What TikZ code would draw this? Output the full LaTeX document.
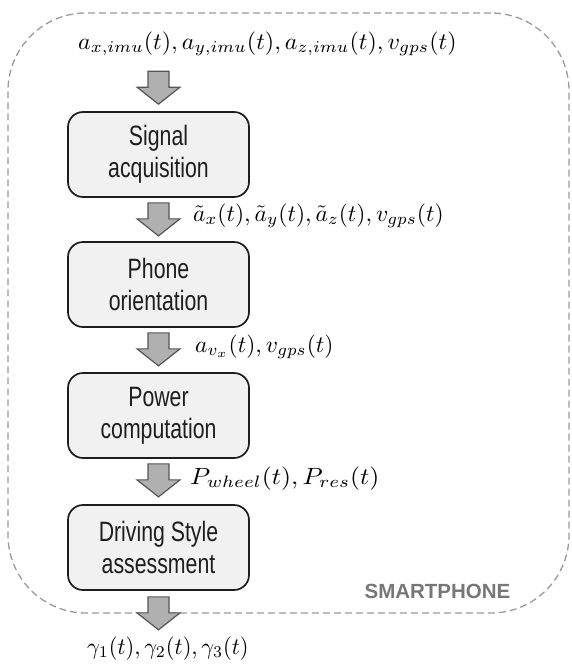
\documentclass[tikz,border=0pt]{standalone}
\usepackage{fontspec}
\newfontfamily\boxfont[FakeStretch=0.76]{Liberation Sans}
\newfontfamily\tagfont{Liberation Sans}
\usetikzlibrary{calc}
\definecolor{boxfill}{HTML}{F1F1F1}
\definecolor{boxedge}{HTML}{1E1E1E}
\definecolor{arrowfill}{HTML}{B0B0B0}
\definecolor{arrowedge}{HTML}{555555}
\definecolor{framegray}{HTML}{9A9A9A}
\definecolor{labelgray}{HTML}{777777}
\newcommand{\sigtext}[2][2.35]{\scalebox{#1}[2.35]{$#2$}}
\tikzset{
  stepbox/.style={draw=boxedge, fill=boxfill, line width=1.7pt, rounded corners=15pt,
    minimum width=181pt, minimum height=85pt, inner sep=0pt, align=center,
    font=\boxfont\fontsize{28}{32}\selectfont, text=boxedge},
  phoneframe/.style={draw=framegray, line width=1.3pt, dash pattern=on 7pt off 4pt,
    rounded corners=78pt, minimum width=561pt, minimum height=600pt, inner sep=0pt},
  sig/.style={anchor=base west, inner sep=0pt},
  barrow/.pic={\draw[fill=arrowfill, draw=arrowedge, line width=1.2pt, line join=miter]
    (-10.5,0) -- (10.5,0) -- (10.5,16) -- (21.5,16) -- (0,33) -- (-21.5,16) -- (-10.5,16) -- cycle;}
}
\begin{document}
\begin{tikzpicture}[x=1pt, y=-1pt]
\useasboundingbox (0,0) rectangle (571,664);
\node[phoneframe] (phone) at (288.5,313) {};
\node[anchor=base, inner sep=0pt, text=labelgray, font=\tagfont\bfseries\fontsize{20.5}{24}\selectfont] (smart) at (437.5,598) {SMARTPHONE};

\node[stepbox] (b1) at (158.5,154.5) {Signal\\acquisition};
\node[stepbox] (b2) at (158.5,284.5) {Phone\\orientation};
\node[stepbox] (b3) at (158.5,415.5) {Power\\computation};
\node[stepbox] (b4) at (158.5,547.5) {Driving Style\\assessment};

\coordinate (a0) at ($(b1.north)+(0,-40)$);
\coordinate (a1) at ($(b1.south)+(0,5)$);
\coordinate (a2) at ($(b2.south)+(0,5)$);
\coordinate (a3) at ($(b3.south)+(0,5)$);
\coordinate (a4) at ($(b4.south)+(0,6)$);
\pic at (a0) {barrow};
\pic at (a1) {barrow};
\pic at (a2) {barrow};
\pic at (a3) {barrow};
\pic at (a4) {barrow};

\node[sig] (l0) at (78,49) {\sigtext[2.4]{a_{x,imu}(t), a_{y,imu}(t), a_{z,imu}(t), v_{gps}(t)}};
\node[sig] (l1) at (193,221) {\sigtext{\tilde{a}_x(t), \tilde{a}_y(t), \tilde{a}_z(t), v_{gps}(t)}};
\node[sig] (l2) at (195,352) {\sigtext{a_{v_x}(t), v_{gps}(t)}};
\node[sig] (l3) at (190,484) {\sigtext[2.58]{P_{wheel}(t), P_{res}(t)}};
\node[sig] (l4) at (87,654) {\sigtext[2.24]{\gamma_1(t), \gamma_2(t), \gamma_3(t)}};
\end{tikzpicture}
\end{document}
